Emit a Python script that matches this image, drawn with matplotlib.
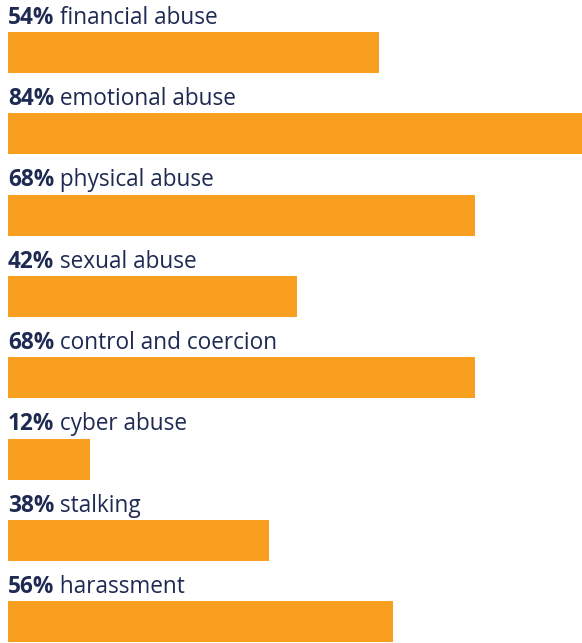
import matplotlib
matplotlib.use("Agg")
import matplotlib.pyplot as plt
from matplotlib.transforms import offset_copy

categories = ["financial abuse", "emotional abuse", "physical abuse", "sexual abuse",
              "control and coercion", "cyber abuse", "stalking", "harassment"]
values = [54, 84, 68, 42, 68, 12, 38, 56]

BAR = "#F89F20"
TXT = "#1E2A52"
FONT = "Open Sans"

W, H, DPI = 582, 643, 100
fig = plt.figure(figsize=(W / DPI, H / DPI), dpi=DPI)
ax = fig.add_axes([0, 0, 1, 1])
ax.set_axis_off()

scale = 6.87  # px per percent
ax.set_xlim(-8 / scale, (W - 8) / scale)
pitch = 81.3
ax.set_ylim((H - 52.5) / pitch, -52.5 / pitch)

ys = list(range(len(values)))
ax.barh(ys, values, height=41 / pitch, left=0, color=BAR, align="center")

fig.canvas.draw()
renderer = fig.canvas.get_renderer()
for y, v, c in zip(ys, values, categories):
    t1 = ax.text(0, y - 0.352, f"{v}%", fontsize=16.3, fontweight="bold",
                 color=TXT, family=FONT, va="baseline", ha="left")
    w = t1.get_window_extent(renderer=renderer).width
    tr = offset_copy(ax.transData, fig=fig, x=w * 72 / DPI, y=0, units="points")
    ax.text(0, y - 0.352, " " + c, fontsize=16.3, color=TXT, family=FONT,
            va="baseline", ha="left", transform=tr)

fig.savefig("out.png", dpi=DPI)
